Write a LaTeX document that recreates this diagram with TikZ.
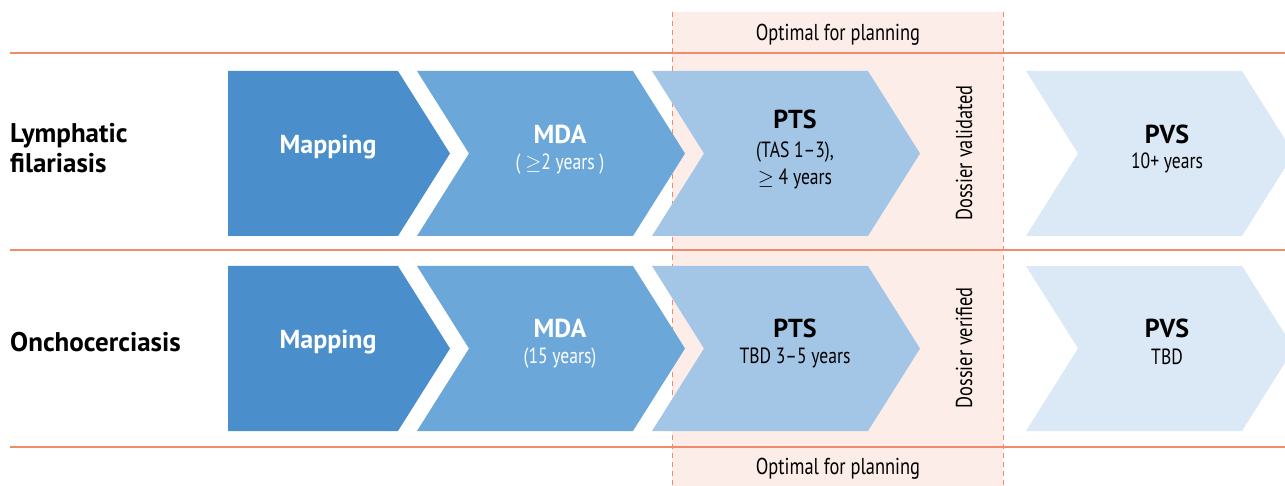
\documentclass[tikz,border=0pt]{standalone}
\usepackage{fontspec}
\setmainfont{PT Sans}[Ligatures=TeX]
\newfontfamily\condfont{PT Sans}[FakeStretch=0.8, Ligatures=TeX]
\usetikzlibrary{calc}
\definecolor{mapblue}{HTML}{4A8FCB}
\definecolor{mdablue}{HTML}{6BA7D8}
\definecolor{ptsblue}{HTML}{A4C6E6}
\definecolor{pvsblue}{HTML}{DBE8F5}
\definecolor{bandpink}{HTML}{FDEDE9}
\definecolor{rulecol}{HTML}{F08C6C}
\tikzset{
  rowrule/.style={draw=rulecol, line width=1.1pt},
  bandedge/.style={draw=rulecol, line width=1pt, dash pattern=on 5pt off 4pt},
  title/.style={font=\bfseries\fontsize{26}{30}\selectfont, inner sep=0pt},
  sub/.style={font=\condfont\fontsize{22}{27}\selectfont, inner sep=0pt, align=center},
  rowlabel/.style={font=\bfseries\fontsize{27}{30}\selectfont, inner sep=0pt, anchor=west, align=left},
  bandtext/.style={font=\condfont\fontsize{23}{26}\selectfont, inner sep=0pt},
}
% chevron: #1 fill, #2 left x, #3 right x, #4 top y, #5 = 1 for a notched tail
\newcommand\chevshape[5]{%
  \fill[#1] (#2,#4) -- (#3,#4) -- ({#3+52},{#4+82.5}) -- (#3,{#4+165}) -- (#2,{#4+165})
    \ifnum#5=1 -- ({#2+52},{#4+82.5})\fi -- cycle;}
\begin{document}
\begin{tikzpicture}[x=1pt,y=-1pt]
\useasboundingbox (0,0) rectangle (1285,486);
% planning band
\fill[bandpink] (672,12) rectangle (1003,486);
\draw[bandedge] (672,12) -- (672,486);
\draw[bandedge] (1003,12) -- (1003,486);
% row separators
\draw[rowrule] (10,53) -- (1285,53);
\draw[rowrule] (10,250) -- (1285,250);
\draw[rowrule] (10,447) -- (1285,447);
% band captions
\node[bandtext] (optTop) at (838,35) {Optimal for planning};
\node[bandtext] (optBot) at (838,469) {Optimal for planning};
% chevrons of both rows
\begin{scope}
\clip (0,0) rectangle (1285,486);
\chevshape{mapblue}{228}{398}{71}{0}
\chevshape{mdablue}{417}{633}{71}{1}
\chevshape{ptsblue}{652}{868}{71}{1}
\chevshape{pvsblue}{1026}{1242}{71}{1}
\chevshape{mapblue}{228}{398}{266}{0}
\chevshape{mdablue}{417}{633}{266}{1}
\chevshape{ptsblue}{652}{868}{266}{1}
\chevshape{pvsblue}{1026}{1242}{266}{1}
\end{scope}
% row labels
\node[rowlabel] (lf) at (10,148) {Lymphatic\\filariasis};
\node[rowlabel] (oncho) at (10,342) {Onchocerciasis};
% row 1 texts
\node[title, text=white] (map1) at (328,147) {Mapping};
\node[title, text=white] (mda1) at (560,134) {MDA};
\node[sub, text=white] (mda1s) at (560,164) {( $\geq$2 years )};
\node[title] (pts1) at (795,119) {PTS};
\node[sub] (pts1s) at (795,165) {(TAS 1–3),\\$\geq$ 4 years};
\node[title] (pvs1) at (1167,134) {PVS};
\node[sub] (pvs1s) at (1167,163) {10+ years};
\node[bandtext, rotate=90] (dv1) at (964,153) {Dossier validated};
% row 2 texts
\node[title, text=white] (map2) at (328,342) {Mapping};
\node[title, text=white] (mda2) at (560,328) {MDA};
\node[sub, text=white] (mda2s) at (560,358) {(15 years)};
\node[title] (pts2) at (795,328) {PTS};
\node[sub] (pts2s) at (795,358) {TBD 3–5 years};
\node[title] (pvs2) at (1167,328) {PVS};
\node[sub] (pvs2s) at (1167,357) {TBD};
\node[bandtext, rotate=90] (dv2) at (964,348) {Dossier verified};
\end{tikzpicture}
\end{document}
